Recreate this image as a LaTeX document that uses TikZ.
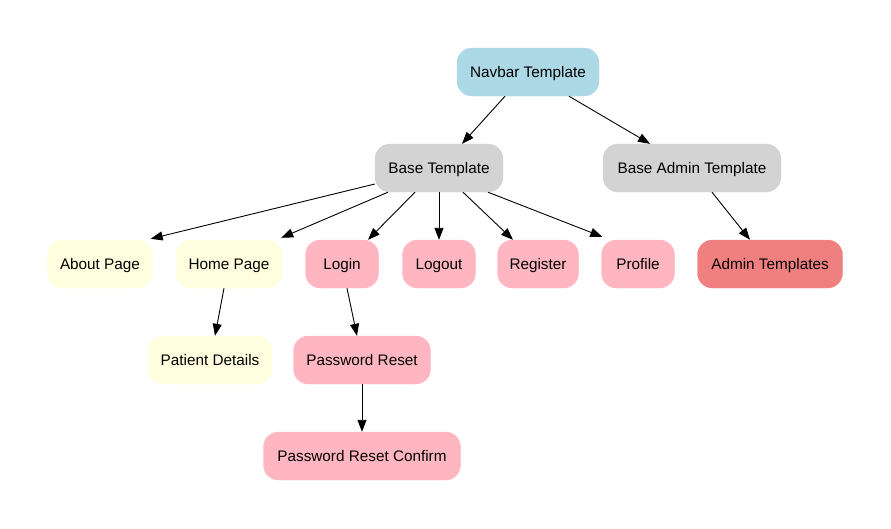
\documentclass[tikz,border=0pt]{standalone}
\usepackage{fontspec}
\setmainfont{Liberation Sans}
\usetikzlibrary{arrows.meta}
\definecolor{navblue}{HTML}{ADD8E6}
\definecolor{basegrey}{HTML}{D3D3D3}
\definecolor{pageyellow}{HTML}{FFFFE0}
\definecolor{authpink}{HTML}{FFB6C1}
\definecolor{admincoral}{HTML}{F08080}
\begin{document}
\begin{tikzpicture}[x=1pt, y=-1pt,
    block/.style={rectangle, draw, rounded corners=15pt, minimum height=48pt, inner sep=0pt, text height=13pt, text depth=3pt, font=\fontsize{15.3}{18}\selectfont},
    line/.style={draw, -{Triangle[length=12pt,width=9pt]}, line width=0.9pt}]
    \useasboundingbox (0,0) rectangle (891,528);
    \node [block, fill=navblue, draw=navblue, minimum width=142pt] (navbar) at (528,72) {Navbar Template};
    \node [block, fill=basegrey, draw=basegrey, minimum width=128pt] (base) at (439,168) {Base Template};
    \node [block, fill=basegrey, draw=basegrey, minimum width=178pt] (base_admin) at (692,168) {Base Admin Template};
    \node [block, fill=pageyellow, draw=pageyellow, minimum width=105pt] (about) at (100,264) {About Page};
    \node [block, fill=pageyellow, draw=pageyellow, minimum width=106pt] (home) at (229,264) {Home Page};
    \node [block, fill=authpink, draw=authpink, minimum width=73pt] (login) at (342,264) {Login};
    \node [block, fill=authpink, draw=authpink, minimum width=73pt] (logout) at (439,264) {Logout};
    \node [block, fill=authpink, draw=authpink, minimum width=81pt] (register) at (538,264) {Register};
    \node [block, fill=authpink, draw=authpink, minimum width=73pt] (profile) at (638,264) {Profile};
    \node [block, fill=admincoral, draw=admincoral, minimum width=145pt] (admin) at (770,264) {Admin Templates};
    \node [block, fill=pageyellow, draw=pageyellow, minimum width=124pt] (patient) at (210,360) {Patient Details};
    \node [block, fill=authpink, draw=authpink, minimum width=137pt] (pw_reset) at (362,360) {Password Reset};
    \node [block, fill=authpink, draw=authpink, minimum width=197pt] (pw_confirm) at (362,456) {Password Reset Confirm};

    \path [line] ([xshift=-23pt]navbar.south) -- ([xshift=23pt]base.north);
    \path [line] ([xshift=41pt]navbar.south) -- ([xshift=-42pt]base_admin.north);
    \path [line] ([yshift=-16pt]base.west) -- ([xshift=-2pt,yshift=1pt]about.north east);
    \path [line] ([xshift=-51pt]base.south) -- ([xshift=-1pt,yshift=2pt]home.north east);
    \path [line] ([xshift=-24pt]base.south) -- ([xshift=26pt]login.north);
    \path [line] (base.south) -- (logout.north);
    \path [line] ([xshift=24pt]base.south) -- ([xshift=-25pt]register.north);
    \path [line] ([xshift=49pt]base.south) -- ([xshift=1pt,yshift=3pt]profile.north west);
    \path [line] ([xshift=20pt]base_admin.south) -- ([xshift=-20pt]admin.north);
    \path [line] ([xshift=-5pt]home.south) -- ([xshift=5pt]patient.north);
    \path [line] ([xshift=5pt]login.south) -- ([xshift=-5pt]pw_reset.north);
    \path [line] (pw_reset.south) -- (pw_confirm.north);
\end{tikzpicture}
\end{document}
